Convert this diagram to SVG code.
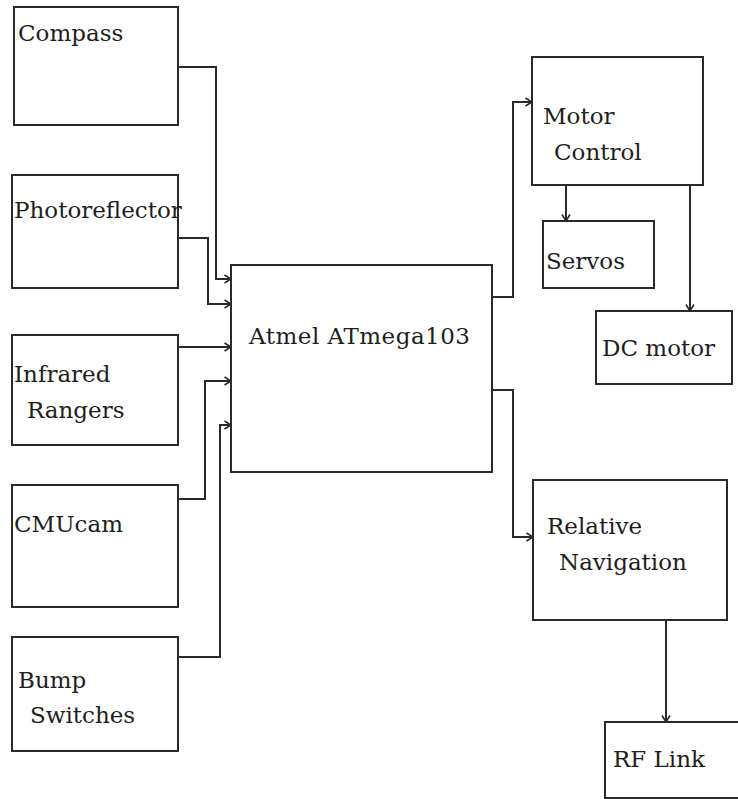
<svg xmlns="http://www.w3.org/2000/svg" width="738" height="799" viewBox="0 0 738 799">
<style>
.box{fill:#fff;stroke:#2a2a2a;stroke-width:2}
.wire{fill:none;stroke:#2a2a2a;stroke-width:2}
text{font-family:"DejaVu Serif","Liberation Serif",serif;font-size:23px;fill:#1e1e1e}
</style>
<defs>
<marker id="arr" viewBox="0 0 10 10" refX="9.5" refY="5" markerWidth="10" markerHeight="10" markerUnits="userSpaceOnUse" orient="auto">
<path d="M3,1 L9.5,5 L3,9" fill="none" stroke="#2a2a2a" stroke-width="1.6"/>
</marker>
</defs>
<rect width="738" height="799" fill="#fff"/>
<g id="compass"><rect class="box" x="14" y="7" width="164" height="118"/><text x="18" y="41">Compass</text></g>
<g id="photoreflector"><rect class="box" x="12" y="175" width="166" height="113"/><text x="14" y="218">Photoreflector</text></g>
<g id="infrared"><rect class="box" x="12" y="335" width="166" height="110"/><text x="14" y="382">Infrared</text><text x="27" y="418">Rangers</text></g>
<g id="cmucam"><rect class="box" x="12" y="485" width="166" height="122"/><text x="14" y="532">CMUcam</text></g>
<g id="bump"><rect class="box" x="12" y="637" width="166" height="114"/><text x="18" y="688">Bump</text><text x="30" y="723">Switches</text></g>
<g id="atmel"><rect class="box" x="231" y="265" width="261" height="207"/><text x="249" y="344" textLength="221">Atmel ATmega103</text></g>
<g id="motor"><rect class="box" x="532" y="57" width="171" height="128"/><text x="543" y="124">Motor</text><text x="554" y="160">Control</text></g>
<g id="servos"><rect class="box" x="543" y="221" width="111" height="67"/><text x="546" y="269">Servos</text></g>
<g id="dcmotor"><rect class="box" x="596" y="311" width="136" height="73"/><text x="602" y="356">DC motor</text></g>
<g id="relnav"><rect class="box" x="533" y="480" width="194" height="140"/><text x="547" y="534">Relative</text><text x="559" y="570">Navigation</text></g>
<g id="rflink"><rect class="box" x="605" y="722" width="140" height="76"/><text x="613" y="767">RF Link</text></g>
<g id="connectors">
<path class="wire" marker-end="url(#arr)" d="M178,67 H216 V279 H231"/>
<path class="wire" marker-end="url(#arr)" d="M178,238 H208 V304 H231"/>
<path class="wire" marker-end="url(#arr)" d="M178,347 H231"/>
<path class="wire" marker-end="url(#arr)" d="M178,499 H205 V381 H231"/>
<path class="wire" marker-end="url(#arr)" d="M178,657 H220 V425 H231"/>
<path class="wire" marker-end="url(#arr)" d="M492,297 H513 V102 H532"/>
<path class="wire" marker-end="url(#arr)" d="M566,185 V221"/>
<path class="wire" marker-end="url(#arr)" d="M690,185 V311"/>
<path class="wire" marker-end="url(#arr)" d="M492,390 H513 V537 H533"/>
<path class="wire" marker-end="url(#arr)" d="M666,620 V722"/>
</g>
</svg>
